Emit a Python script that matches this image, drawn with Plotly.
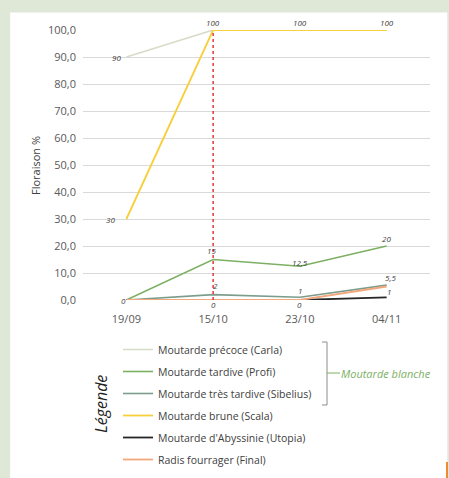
import plotly.graph_objects as go

dates = ["19/09", "15/10", "23/10", "04/11"]
carla = [90, 100, 100, 100]
profi = [0, 15, 12.5, 20]
sibelius = [0, 2, 1, 5.5]
scala = [30, 100, 100, 100]
utopia = [0, 0, 0, 1]
final = [0, 0, 0, 5]

names = ["Moutarde précoce (Carla)", "Moutarde tardive (Profi)", "Moutarde très tardive (Sibelius)",
         "Moutarde brune (Scala)", "Moutarde d'Abyssinie (Utopia)", "Radis fourrager (Final)"]
series = [carla, profi, sibelius, scala, utopia, final]
colors = ["#d6dcc8", "#7cb063", "#7d9d8c", "#f7cf3a", "#262626", "#f2a77c"]
widths = [1.6, 1.6, 1.6, 1.8, 1.8, 1.8]

# data labels: (series index, point index, text, dx, dy)
labels = [
    (0, 0, "90", -10, 0), (3, 0, "30", -16, 0),
    (3, 1, "100", 0, -8), (3, 2, "100", 0, -8), (3, 3, "100", 0, -8),
    (1, 1, "15", -2, -9), (1, 2, "12,5", 0, -4), (1, 3, "20", 0, -8),
    (2, 1, "2", 2, -9), (2, 2, "1", 0, -7), (2, 3, "5,5", 4, -8),
    (4, 3, "1", 2, -6), (1, 0, "0", -3, 0), (5, 1, "0", 0, 4), (5, 2, "0", 0, 4),
]

fig = go.Figure()
for i in range(len(series)):
    fig.add_trace(go.Scatter(
        x=dates, y=series[i], mode="lines", name=names[i],
        line=dict(color=colors[i], width=widths[i]),
        legendgroup=str(i), cliponaxis=False,
    ))

for si, pi, txt, dx, dy in labels:
    fig.add_annotation(x=dates[pi], y=series[si][pi], text=txt, showarrow=False,
                       xshift=dx, yshift=-dy, font=dict(size=8, color="#404040", style="italic"))

# white panel
fig.add_shape(type="rect", xref="paper", yref="paper", x0=-0.21, x1=1.05, y0=-0.66, y1=1.065,
              fillcolor="white", line=dict(width=0), layer="below")
# red dashed marker
fig.add_shape(type="line", x0="15/10", x1="15/10", y0=0, y1=100, xref="x", yref="y",
              line=dict(color="#e8353a", width=1.5, dash="dot"))

def px(xp):
    return (xp - 83) / 347
def py(yp):
    return (300 - yp) / 270

br = "#8a8f84"
fig.add_shape(type="line", xref="paper", yref="paper", x0=px(322), x1=px(327), y0=py(342), y1=py(342), line=dict(color=br, width=1))
fig.add_shape(type="line", xref="paper", yref="paper", x0=px(327), x1=px(327), y0=py(342), y1=py(405), line=dict(color=br, width=1))
fig.add_shape(type="line", xref="paper", yref="paper", x0=px(322), x1=px(327), y0=py(405), y1=py(405), line=dict(color=br, width=1))
fig.add_shape(type="line", xref="paper", yref="paper", x0=px(327), x1=px(340), y0=py(373), y1=py(373), line=dict(color="#7cb063", width=1))
fig.add_annotation(xref="paper", yref="paper", x=px(339), y=py(373), text="Moutarde blanche",
                   showarrow=False, xanchor="left", yanchor="middle",
                   font=dict(size=11, color="#7cb063", style="italic"))
fig.add_annotation(xref="paper", yref="paper", x=px(101), y=py(404), text="Légende",
                   showarrow=False, textangle=-90, xanchor="center", yanchor="middle",
                   font=dict(size=16, color="#222", style="italic"))
fig.add_annotation(xref="paper", yref="paper", x=px(35), y=0.5, text="Floraison %",
                   showarrow=False, textangle=-90, xanchor="center", yanchor="middle",
                   font=dict(size=11, color="#404040"))
fig.add_shape(type="line", xref="paper", yref="paper", x0=px(447), x1=px(447), y0=py(462), y1=py(478),
              line=dict(color="#f08a30", width=2))

fig.update_layout(
    width=449, height=478,
    margin=dict(l=83, r=19, t=30, b=178, autoexpand=False),
    paper_bgcolor="#dfe7d6", plot_bgcolor="white",
    font=dict(family="Open Sans, Liberation Sans, sans-serif", color="#595959"),
    separators=",.",
    showlegend=True,
    legend=dict(x=px(118), y=py(335), xanchor="left", yanchor="top",
                font=dict(size=10.5, color="#404040"), tracegroupgap=3,
                bgcolor="rgba(0,0,0,0)", itemwidth=30),
    xaxis=dict(type="category", range=[-0.5, 3.5], showgrid=False, showline=False,
               ticks="", tickfont=dict(size=11, color="#595959"), fixedrange=True,
               automargin=False, ticklabelstandoff=11),
    yaxis=dict(range=[0, 100], dtick=10, tickformat=".1f", gridcolor="#d9d9d9",
               zeroline=False, showline=False, tickfont=dict(size=11, color="#595959"),
               automargin=False, ticklabelstandoff=6),
)

fig.write_html("out.html", config={"displayModeBar": False},
               post_script="document.body.style.margin='0';document.body.style.overflow='hidden';")
